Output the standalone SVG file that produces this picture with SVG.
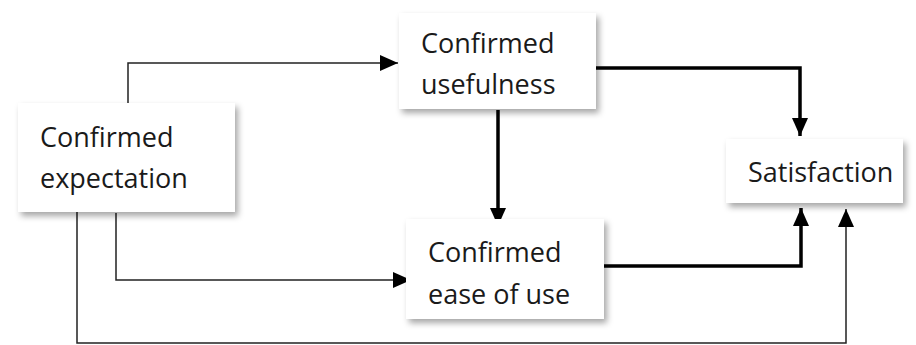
<svg xmlns="http://www.w3.org/2000/svg" width="916" height="345" viewBox="0 0 916 345">
  <defs>
    <filter id="shadow" x="-10%" y="-10%" width="130%" height="140%">
      <feDropShadow dx="3" dy="4" stdDeviation="3" flood-color="#000" flood-opacity="0.35"/>
    </filter>
    <marker id="arrow" markerUnits="userSpaceOnUse" markerWidth="18" markerHeight="16" viewBox="0 0 18 16" refX="18" refY="8" orient="auto">
      <path d="M0,0 L18,8 L0,16 z" fill="#000"/>
    </marker>
  </defs>
  <style>
    .box { fill: #fff; filter: url(#shadow); }
    .label { font-family: "Open Sans", "Liberation Sans", sans-serif; font-size: 27px; fill: #1a1a1a; }
    .thin { fill: none; stroke: #222; stroke-width: 1.5; marker-end: url(#arrow); }
    .thick { fill: none; stroke: #000; stroke-width: 3.5; marker-end: url(#arrow); }
  </style>
  <rect width="916" height="345" fill="#fff"/>

  <g id="connectors">
    <path class="thin" d="M128,110 V63 H398"/>
    <path class="thin" d="M116,213 V280 H411"/>
    <path class="thin" d="M77,212 V343 H846 V209"/>
    <path class="thick" d="M498,110 V226"/>
    <path class="thick" d="M596,68 H800 V136"/>
    <path class="thick" d="M604,266 H801 V208"/>
  </g>

  <g id="expectation">
    <rect class="box" x="18" y="103" width="217" height="109"/>
    <text class="label" x="40" y="147">Confirmed</text>
    <text class="label" x="40" y="188">expectation</text>
  </g>

  <g id="usefulness">
    <rect class="box" x="399" y="13" width="197" height="96"/>
    <text class="label" x="421" y="53">Confirmed</text>
    <text class="label" x="421" y="94">usefulness</text>
  </g>

  <g id="ease">
    <rect class="box" x="406" y="219" width="198" height="100"/>
    <text class="label" x="428" y="262">Confirmed</text>
    <text class="label" x="428" y="304">ease of use</text>
  </g>

  <g id="satisfaction">
    <rect class="box" x="726" y="139" width="177" height="64"/>
    <text class="label" x="748" y="182">Satisfaction</text>
  </g>
</svg>
